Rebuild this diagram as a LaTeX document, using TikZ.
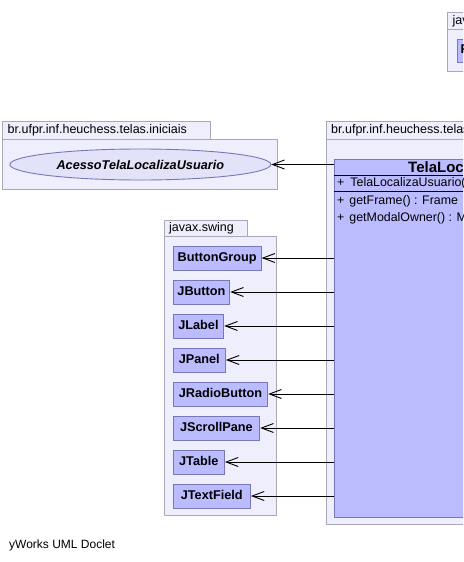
\documentclass[tikz,border=0pt]{standalone}
\usepackage{fontspec}
\setmainfont{Liberation Sans}
\usetikzlibrary{arrows.meta,shapes.geometric}
\definecolor{pkgfill}{RGB}{238,238,252}
\definecolor{pkgline}{RGB}{168,168,184}
\definecolor{clsfill}{RGB}{187,187,255}
\definecolor{clsline}{RGB}{120,120,184}
\definecolor{ellfill}{RGB}{226,226,248}

\begin{document}
\begin{tikzpicture}[x=1pt, y=-1pt,
        pkg/.style={draw=pkgline, fill=pkgfill, line width=0.9pt},
        pkglabel/.style={anchor=west, inner sep=0pt, font=\fontsize{12.5}{14}\selectfont},
        cls/.style={draw=clsline, fill=clsfill, line width=0.9pt, anchor=west, inner sep=0pt,
            minimum height=24pt, text height=9pt, text depth=2.5pt,
            font=\bfseries\fontsize{12.7}{14}\selectfont},
        member/.style={anchor=west, inner sep=0pt, font=\fontsize{12.4}{14}\selectfont},
        dep/.style={-{Straight Barb[length=12pt, width=9pt]}, line width=0.9pt}]
        \useasboundingbox (0,0) rectangle (463,562);
        \clip (0,0) rectangle (463,562);
        % top right package
        \draw[pkg] (447,12.7) rectangle (520,29);
        \draw[pkg] (447,29) rectangle (600,71);
        \node[pkglabel] (awtlabel) at (452.5,21) {java.awt};
        \node[cls, inner xsep=3.5pt, minimum height=23pt] (Frame) at (456.7,50.5) {Frame};
        % package telas.iniciais
        \draw[pkg] (2.7,121.7) rectangle (210.7,139.3);
        \draw[pkg] (2.7,139.3) rectangle (277,189);
        \node[pkglabel] (inilabel) at (7.5,130.5) {br.ufpr.inf.heuchess.telas.iniciais};
        \node[ellipse, draw=clsline, fill=ellfill, line width=0.9pt, minimum width=261pt,
            minimum height=31pt, inner sep=0pt, font=\bfseries\itshape\fontsize{12.7}{14}\selectfont]
            (acesso) at (140.3,164.5) {AcessoTelaLocalizaUsuario};
        % package javax.swing
        \draw[pkg] (164,220) rectangle (247.3,236.7);
        \draw[pkg] (164,236.7) rectangle (276.7,515);
        \node[pkglabel] (swinglabel) at (169,228.5) {javax.swing};
        % package telas
        \draw[pkg] (326,121.7) rectangle (560,139.3);
        \draw[pkg] (326,139.3) rectangle (680,524);
        \node[pkglabel] (telaslabel) at (331,130.5) {br.ufpr.inf.heuchess.telas};
        \node[draw=clsline, fill=clsfill, line width=0.9pt, anchor=north west, inner sep=0pt,
            minimum width=320pt, minimum height=357.4pt] (telaloc) at (334,159.3) {};
        \node[anchor=west, inner sep=0pt, font=\bfseries\fontsize{15}{17}\selectfont]
            (telaname) at (408,167) {TelaLocalizaUsuario};
        \draw[line width=0.9pt] (telaloc.west |- 0,175) -- (telaloc.east |- 0,175);
        \draw[line width=0.9pt] (telaloc.west |- 0,191.7) -- (telaloc.east |- 0,191.7);
        \node[member] (attr) at (337,183) {+\hspace{6pt}TelaLocalizaUsuario()};
        \node[member] (getframe) at (337,201.7) {+\hspace{5pt}getFrame() : Frame};
        \node[member] (getmodal) at (337,218.3) {+\hspace{5pt}getModalOwner() : ModalFrameHierarquia};
        % dependencies
        \draw[dep] (telaloc.west |- acesso.east) -- (acesso.east);
        \foreach \nm/\w [count=\i] in {ButtonGroup/88, JButton/56.6, JLabel/50.6, JPanel/52.3,
            JRadioButton/94.6, JScrollPane/86.6, JTable/51.3, JTextField/77.3} {
            \node[cls, minimum width=\w pt] (\nm) at (172.7,{224+34*\i}) {\nm};
            \draw[dep] (telaloc.west |- \nm.east) -- (\nm.east);
        }
        \node[anchor=west, inner sep=0pt, font=\fontsize{12}{14}\selectfont] (doclet) at (9,545.5) {yWorks UML Doclet};
    \end{tikzpicture}
\end{document}
